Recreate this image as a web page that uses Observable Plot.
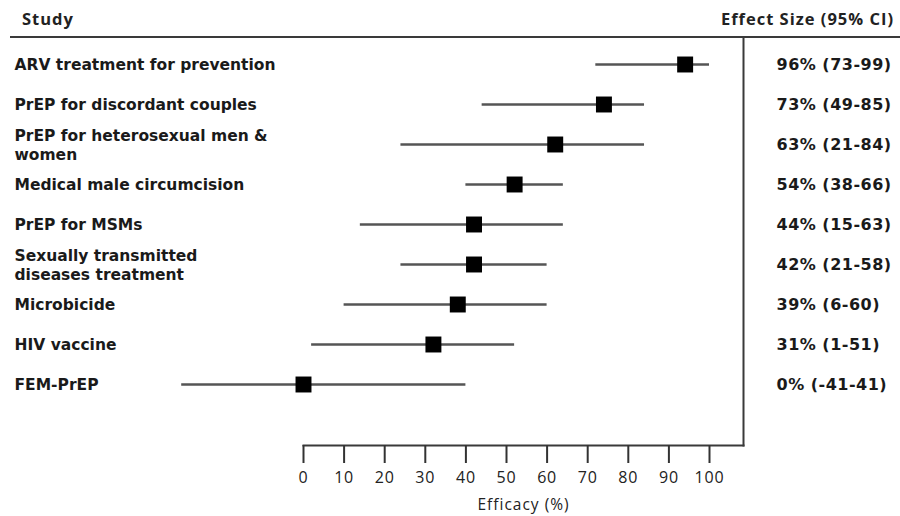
<!DOCTYPE html>
<html>
<head>
<meta charset="utf-8">
<script src="https://cdn.jsdelivr.net/npm/d3@7"></script>
<script src="https://cdn.jsdelivr.net/npm/@observablehq/plot@0.6"></script>
<style>
  html, body { margin: 0; padding: 0; background: #fff; }
  #wrap { width: 900px; height: 516px; position: relative; overflow: hidden; }
  #header { position: relative; height: 36px; margin-left: 10px; border-bottom: 2px solid #3a3a3a; }
  #header span { position: absolute; top: 7px; font-family: "Open Sans", sans-serif; font-weight: 700; font-size: 16.5px; color: #222; letter-spacing: 1px; }
  #study { left: 12px; }
  #effect { right: 6px; }
  g[aria-label="x-axis tick label"] text { font-size: 16px; letter-spacing: 0.8px; }
  g[aria-label="x-axis label"] text { font-size: 15.5px; letter-spacing: 1px; }
  g.effects text { letter-spacing: 0.5px; }
</style>
</head>
<body>
<div id="wrap">
  <div id="header"><span id="study">Study</span><span id="effect">Effect Size (95% CI)</span></div>
  <div id="chart"></div>
</div>
<script>
const studies = [
  "ARV treatment for prevention",
  "PrEP for discordant couples",
  "PrEP for heterosexual men &\nwomen",
  "Medical male circumcision",
  "PrEP for MSMs",
  "Sexually transmitted\ndiseases treatment",
  "Microbicide",
  "HIV vaccine",
  "FEM-PrEP"
];
const estimates = [94, 74, 62, 52, 42, 42, 38, 32, 0];
const lower = [72, 44, 24, 40, 14, 24, 10, 2, -30];
const upper = [100, 84, 84, 64, 64, 60, 60, 52, 40];
const effects = ["96% (73-99)", "73% (49-85)", "63% (21-84)", "54% (38-66)", "44% (15-63)", "42% (21-58)", "39% (6-60)", "31% (1-51)", "0% (-41-41)"];
const xTicks = [0, 10, 20, 30, 40, 50, 60, 70, 80, 90, 100];

const data = studies.map((s, i) => ({study: s, est: estimates[i], lo: lower[i], hi: upper[i], effect: effects[i]}));

const chart = Plot.plot({
  width: 900,
  height: 478,
  marginTop: 0,
  marginLeft: 303,
  marginRight: 157,
  marginBottom: 71,
  x: {domain: [0, 100], range: [303, 709]},
  y: {type: "point", domain: studies, range: [25, 346], padding: 0, axis: null},
  style: {fontFamily: "'Open Sans', sans-serif", color: "#222", background: "#fff"},
  marks: [
    Plot.frame({anchor: "right", stroke: "#3a3a3a", strokeWidth: 2}),
    Plot.frame({anchor: "bottom", stroke: "#3a3a3a", strokeWidth: 2}),
    Plot.axisX({
      ticks: xTicks, tickSize: 18, tickPadding: 8, tickFormat: d => String(d),
      stroke: "#333", strokeWidth: 2, fontSize: 16,
      label: "Efficacy (%)", labelAnchor: "center", labelOffset: 64, labelArrow: false
    }),
    Plot.ruleY(data, {y: "study", x1: "lo", x2: "hi", stroke: "#555", strokeWidth: 2.5}),
    Plot.dot(data, {x: "est", y: "study", symbol: "square", r: 9, fill: "#000", stroke: "none"}),
    Plot.text(data, {
      y: "study", text: "study", frameAnchor: "left", textAnchor: "start", dx: -289,
      fontFamily: "'DejaVu Sans', sans-serif", fontWeight: "bold", fontSize: 15.5, lineHeight: 1.2, fill: "#1a1a1a"
    }),
    Plot.text(data, {
      y: "study", text: "effect", frameAnchor: "right", textAnchor: "start", dx: 33,
      fontFamily: "'DejaVu Sans', sans-serif", fontWeight: "bold", fontSize: 16, fill: "#1a1a1a",
      className: "effects"
    })
  ]
});
document.getElementById("chart").appendChild(chart);
</script>
</body>
</html>
